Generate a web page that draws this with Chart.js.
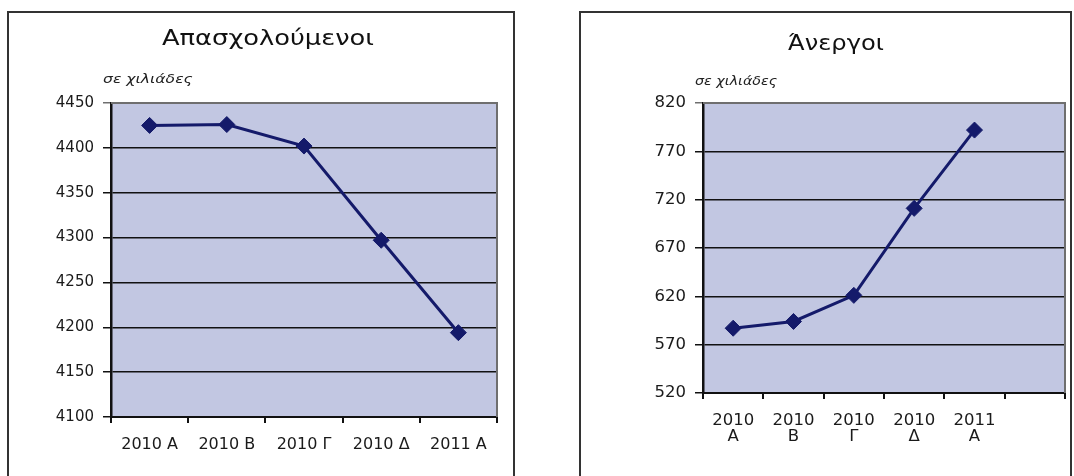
<!DOCTYPE html>
<html>
<head>
<meta charset="utf-8">
<script src="https://cdn.jsdelivr.net/npm/chart.js@4.4.0/dist/chart.umd.min.js"></script>
<style>
  html, body { margin: 0; padding: 0; background: #fff; }
  body { width: 1074px; height: 476px; position: relative; overflow: hidden; font-family: "DejaVu Sans", sans-serif; }
  .panel { position: absolute; border: 2px solid #333; box-sizing: border-box; }
  .title { position: absolute; font-family: "DejaVu Sans", sans-serif; font-size: 22px; color: #111; white-space: nowrap; }
  .unit { position: absolute; font-family: "DejaVu Sans", sans-serif; font-size: 13px; font-style: italic; color: #222; white-space: nowrap; transform-origin: 0 50%; }
  canvas { position: absolute; top: 0; }
</style>
</head>
<body>
<div class="panel" style="left:7px;top:11px;width:508px;height:480px;"></div>
<div class="panel" style="left:579px;top:11px;width:493px;height:480px;"></div>

<canvas id="empChart" width="530" height="476" style="left:0px;"></canvas>
<canvas id="unempChart" width="534" height="476" style="left:540px;"></canvas>

<div class="title" style="left:268px;top:37px;transform:translate(-50%,-50%) scaleX(1.17);">Απασχολούμενοι</div>
<div class="unit" style="left:103px;top:78px;transform:translateY(-50%) scaleX(1.2);">σε χιλιάδες</div>
<div class="title" style="left:836px;top:42px;transform:translate(-50%,-50%) scaleX(1.1);">Άνεργοι</div>
<div class="unit" style="left:695px;top:80px;transform:translateY(-50%) scaleX(1.1);">σε χιλιάδες</div>

<script>
// data (thousands)
const empLabels = ['2010 Α', '2010 Β', '2010 Γ', '2010 Δ', '2011 Α'];
const empValues = [4425, 4426, 4402, 4297, 4194];

const unempLabels = [['2010', 'Α'], ['2010', 'Β'], ['2010', 'Γ'], ['2010', 'Δ'], ['2011', 'Α'], ''];
const unempValues = [587, 594, 621, 711, 792];

const plotBg = 'rgb(194,199,226)';
const lineColor = 'rgb(20,26,106)';

const plotArea = {
  id: 'plotArea',
  beforeDraw(chart) {
    const { ctx, chartArea: a } = chart;
    ctx.save();
    ctx.fillStyle = plotBg;
    ctx.fillRect(a.left, a.top, a.right - a.left, a.bottom - a.top);
    ctx.restore();
  },
  afterDatasetsDraw(chart) {
    const { ctx, chartArea: a } = chart;
    ctx.save();
    ctx.strokeStyle = '#6f6f6f';
    ctx.lineWidth = 2;
    ctx.beginPath();
    ctx.moveTo(a.left, a.top);
    ctx.lineTo(a.right, a.top);
    ctx.lineTo(a.right, a.bottom);
    ctx.stroke();
    ctx.restore();
  }
};

function makeChart(id, labels, values, yMin, yMax, opt) {
  return new Chart(document.getElementById(id), {
    type: 'line',
    data: {
      labels: labels,
      datasets: [{
        data: values,
        borderColor: lineColor,
        backgroundColor: lineColor,
        borderWidth: 3,
        pointStyle: 'rectRot',
        pointRadius: 8,
        pointHoverRadius: 8,
        pointBorderWidth: 1,
        tension: 0
      }]
    },
    options: {
      responsive: false,
      animation: false,
      layout: { padding: opt.pad },
      plugins: { legend: { display: false }, tooltip: { enabled: false } },
      scales: {
        x: {
          offset: true,
          afterFit: s => { s.height = opt.xHeight; },
          grid: { display: true, offset: true, drawOnChartArea: false, drawTicks: true, tickLength: 6, color: '#111', lineWidth: 2 },
          border: { display: true, color: '#111', width: 2 },
          ticks: { color: '#1a1a1a', padding: opt.xPad, maxRotation: 0, autoSkip: false, font: { family: 'DejaVu Sans', size: opt.xFont, lineHeight: 0.95 } }
        },
        y: {
          min: yMin,
          max: yMax,
          afterFit: s => { s.width = opt.yWidth; },
          grid: {
            color: c => (c.tick && c.tick.value === yMax) ? '#6f6f6f' : '#111',
            lineWidth: 1.5,
            drawTicks: true,
            tickLength: 8
          },
          border: { display: true, color: '#111', width: 2.5 },
          ticks: {
            stepSize: 50,
            color: '#1a1a1a',
            padding: opt.yPad,
            font: { family: 'DejaVu Sans', size: opt.yFont },
            callback: v => String(v)
          }
        }
      }
    },
    plugins: [plotArea]
  });
}

makeChart('empChart', empLabels, empValues, 4100, 4450, {
  pad: { top: 103, right: 33, left: 0, bottom: 0 }, yWidth: 111, xHeight: 59, xPad: 14, xFont: 16, yFont: 15, yPad: 9
});
makeChart('unempChart', unempLabels, unempValues, 520, 820, {
  pad: { top: 103, right: 7, left: 0, bottom: 0 }, yWidth: 163, xHeight: 83, xPad: 14, xFont: 16.5, yFont: 16.5, yPad: 9
});
</script>
</body>
</html>
